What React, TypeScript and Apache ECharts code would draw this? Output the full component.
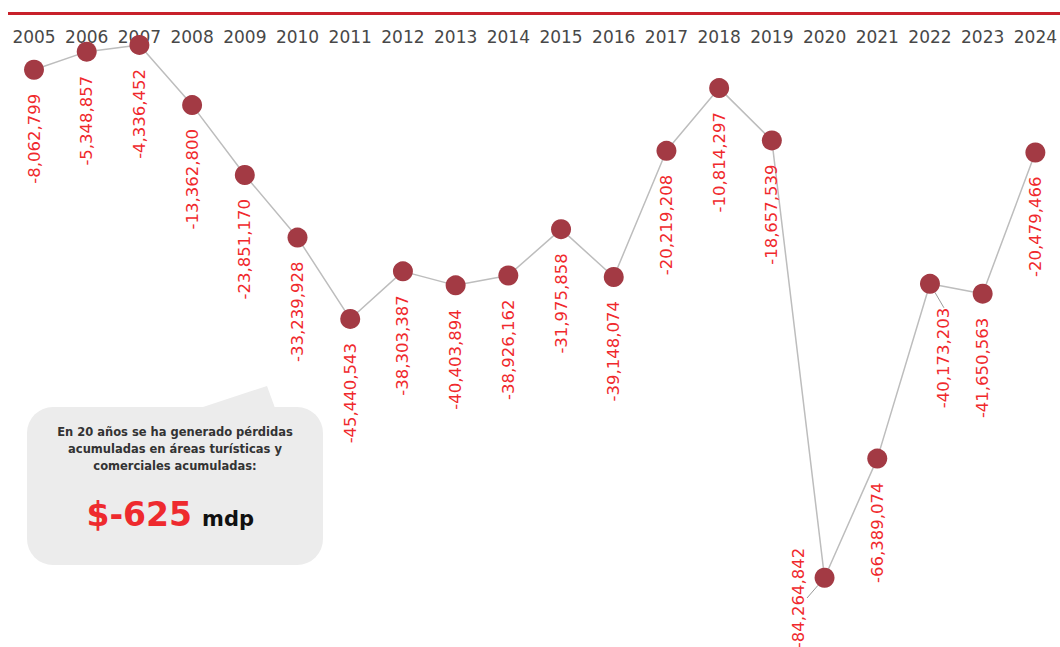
import React, { useEffect, useRef } from "react";
import * as echarts from "echarts";

const years = ["2005","2006","2007","2008","2009","2010","2011","2012","2013","2014","2015","2016","2017","2018","2019","2020","2021","2022","2023","2024"];
const losses = [-8062799,-5348857,-4336452,-13362800,-23851170,-33239928,-45440543,-38303387,-40403894,-38926162,-31975858,-39148074,-20219208,-10814297,-18657539,-84264842,-66389074,-40173203,-41650563,-20479466];
const calloutLines = ["En 20 años se ha generado pérdidas","acumuladas en áreas turísticas y","comerciales acumuladas:"];
const totalText = "$-625";
const unitText = "mdp";

// label shifts on screen [dx, dy] for crowded points
const labelShifts: Record<string, number[]> = { "2020": [-26, -54], "2022": [14, 0] };

export default function App() {
  const ref = useRef<HTMLDivElement>(null);
  useEffect(() => {
    const chart = echarts.init(ref.current!, null, { renderer: "svg" });
    const font = "'DejaVu Sans', sans-serif";
    chart.setOption({
      animation: false,
      backgroundColor: "#ffffff",
      grid: { left: 34, right: 23, top: 16, bottom: 31 },
      xAxis: {
        type: "category",
        data: years,
        position: "top",
        boundaryGap: false,
        axisLine: { show: false },
        axisTick: { show: false },
        splitLine: { show: false },
        axisLabel: { inside: true, margin: 12, color: "#484848", fontSize: 17, fontFamily: font, interval: 0 },
      },
      yAxis: { type: "value", min: -90000000, max: 0, show: false },
      graphic: [
        { type: "rect", shape: { x: 8, y: 12, width: 1052, height: 3 }, style: { fill: "#c8202a" }, z: 10 },
        { type: "polygon", shape: { points: [[200, 408], [267, 386], [275, 408]] }, style: { fill: "#ececec" }, z: 1 },
        { type: "rect", shape: { x: 27, y: 407, width: 296, height: 158, r: 26 }, style: { fill: "#ececec" }, z: 1 },
        ...calloutLines.map((t, i) => ({
          type: "text", x: 175, y: 432 + i * 17, z: 2,
          style: { text: t, fill: "#333", font: `bold 11.5px ${font}`, align: "center", verticalAlign: "middle" },
        })),
        { type: "text", x: 192, y: 514, z: 2, style: { text: totalText, fill: "#ee2a2e", font: `bold 33px ${font}`, align: "right", verticalAlign: "middle" } },
        { type: "text", x: 202, y: 519, z: 2, style: { text: unitText, fill: "#111", font: `bold 21px ${font}`, align: "left", verticalAlign: "middle" } },
      ],
      series: [
        {
          type: "line",
          data: losses.map((v, i) => {
            const s = labelShifts[years[i]];
            // label is rotated 90°, so its local offset is [-dy, dx]
            return s
              ? { value: v, label: { offset: [-s[1], s[0]] }, labelLine: { show: true, lineStyle: { color: "#9a9a9a", width: 1 } } }
              : v;
          }),
          symbol: "circle",
          symbolSize: 20,
          itemStyle: { color: "#a33a44" },
          lineStyle: { color: "#bdbdbd", width: 1.5 },
          z: 3,
          label: {
            show: true,
            position: "bottom",
            distance: 14,
            rotate: 90,
            align: "right",
            verticalAlign: "middle",
            color: "#f0282c",
            fontSize: 16.5,
            fontFamily: font,
            formatter: (p: any) => Number(p.value).toLocaleString("en-US"),
          },
        },
      ],
    });
    return () => chart.dispose();
  }, []);
  return <div ref={ref} style={{ position: "fixed", left: 0, top: 0, width: 1060, height: 647 }} />;
}
